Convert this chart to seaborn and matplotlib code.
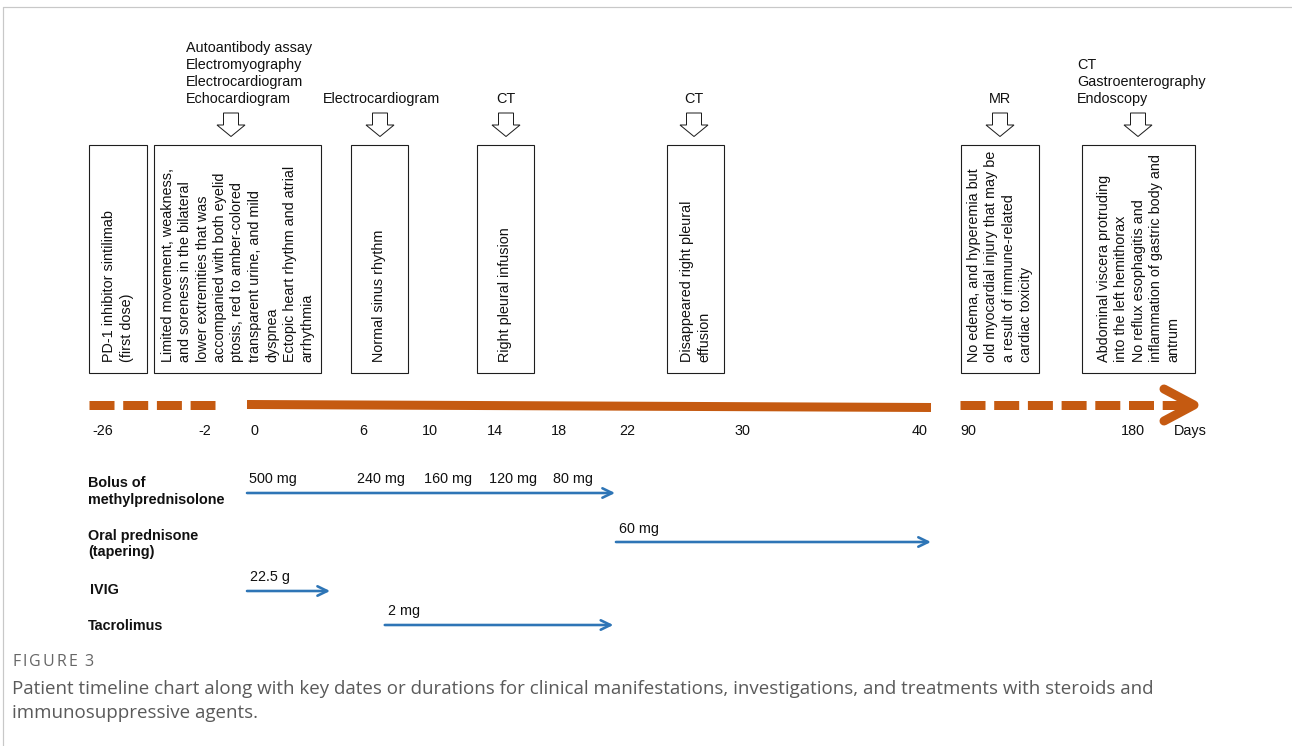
import numpy as np
import matplotlib
matplotlib.use("Agg")
import matplotlib.pyplot as plt
from matplotlib.patches import Rectangle, Polygon
import seaborn as sns

# ------------------------------------------------------------------ data
tick_days = [-26, -2, 0, 6, 10, 14, 18, 22, 30, 40, 90, 180]
tick_labels = ["-26", "-2", "0", "6", "10", "14", "18", "22", "30", "40", "90", "180"]
axis_unit = "Days"

event_texts = [
    "PD-1 inhibitor sintilimab\n(first dose)",
    "Limited movement, weakness,\nand soreness in the bilateral\nlower extremities that was\n"
    "accompanied with both eyelid\nptosis, red to amber-colored\ntransparent urine, and mild\n"
    "dyspnea\nEctopic heart rhythm and atrial\narrhythmia",
    "Normal sinus rhythm",
    "Right pleural infusion",
    "Disappeared right pleural\neffusion",
    "No edema, and hyperemia but\nold myocardial injury that may be\na result of immune-related\ncardiac toxicity",
    "Abdominal viscera protruding\ninto the left hemithorax\nNo reflux esophagitis and\n"
    "inflammation of gastric body and\nantrum",
]
investigations = [
    "Autoantibody assay\nElectromyography\nElectrocardiogram\nEchocardiogram",
    "Electrocardiogram",
    "CT",
    "CT",
    "MR",
    "CT\nGastroenterography\nEndoscopy",
]
treatment_names = ["Bolus of\nmethylprednisolone", "Oral prednisone\n(tapering)", "IVIG", "Tacrolimus"]
treatment_start = [0, 21.35, 0, 7.3]
treatment_end = [21.3, 40, 4.3, 21.2]
bolus_doses = ["500 mg", "240 mg", "160 mg", "120 mg", "80 mg"]
bolus_dose_days = [0, 6, 10, 14, 18]
other_doses = ["60 mg", "22.5 g", "2 mg"]          # oral prednisone, IVIG, tacrolimus
caption_head = "FIGURE 3"
caption_lines = [
    "Patient timeline chart along with key dates or durations for clinical manifestations, "
    "investigations, and treatments with steroids and",
    "immunosuppressive agents.",
]

# ------------------------------------------------------------------ layout / style
W, H = 1292, 746
ORANGE = "#C55A11"
BLUE = "#2E75B6"
EDGE = "#1e1e1e"
PT = 0.72  # points per pixel at dpi 100

TICK_X = [89, 215, 247, 363, 430, 495, 559, 627, 742, 931, 960, 1133]
TICK_LABEL_DX = [14, -10, 7, 0, 0, 0, 0, 0, 0, -11, 8, 0]
TICK_LABEL_Y = 431
LINE_Y = 405

BOX_X0 = [89, 154, 351, 477, 667, 961, 1082]
BOX_X1 = [147, 321, 408, 534, 724, 1039, 1195]
BOX_Y0, BOX_Y1 = 145, 373
BOX_TEXT_BOTTOM = 362
LINE_PITCH = 17.4

INV_ARROW_X = [231, 380, 506, 694, 1000, 1138]
INV_LABEL_X = [186, 382, 506, 694, 1000, 1077]
INV_HA = ["left", "center", "center", "center", "center", "left"]
INV_BASELINE = 103

TREAT_Y = [493, 542, 591, 625]
NAME_Y = [491.5, 544, 590, 626]
NAME_X = [88, 88, 90, 88]

FS = 10.4

sns.set_theme(style="white")
plt.rcParams["font.family"] = ["Liberation Sans", "DejaVu Sans"]
plt.rcParams["lines.scale_dashes"] = False

fig = plt.figure(figsize=(W / 100, H / 100), dpi=100)
ax = fig.add_axes([0, 0, 1, 1])
ax.set_xlim(0, W)
ax.set_ylim(H, 0)


def xmap(d):
    return float(np.interp(d, tick_days, TICK_X))


def lines_text(x, y_center, s, pitch, **kw):
    parts = s.split("\n")
    n = len(parts)
    for i, p in enumerate(parts):
        ax.text(x, y_center + (i - (n - 1) / 2) * pitch, p, va="center", **kw)


# ---- timeline (seaborn lines)
dash = (0, (25 * PT, 8.7 * PT))
lw_t = 9 * PT
sns.lineplot(x=[xmap(-26), xmap(-2)], y=[LINE_Y, LINE_Y], color=ORANGE, linewidth=lw_t,
             linestyle=dash, ax=ax, sort=False)
sns.lineplot(x=[xmap(0), xmap(40)], y=[LINE_Y - 0.5, LINE_Y + 2.5], color=ORANGE, linewidth=lw_t,
             solid_capstyle="butt", ax=ax, sort=False)
tip = xmap(180) + 63
sns.lineplot(x=[xmap(90), tip - 10], y=[LINE_Y, LINE_Y], color=ORANGE, linewidth=lw_t,
             linestyle=dash, ax=ax, sort=False)
ax.plot([tip - 32, tip - 2, tip - 32], [LINE_Y - 16, LINE_Y, LINE_Y + 16], color=ORANGE,
        lw=lw_t, solid_capstyle="round", solid_joinstyle="round")

for d, lab, dx in zip(tick_days, tick_labels, TICK_LABEL_DX):
    ax.text(xmap(d) + dx, TICK_LABEL_Y, lab, ha="center", va="center", fontsize=FS, color="#111111")
ax.text(tip - 6, TICK_LABEL_Y, axis_unit, ha="center", va="center", fontsize=FS, color="#111111")

# ---- event boxes with vertical text
for x0, x1, s in zip(BOX_X0, BOX_X1, event_texts):
    ax.add_patch(Rectangle((x0, BOX_Y0), x1 - x0, BOX_Y1 - BOX_Y0, fill=False,
                           edgecolor=EDGE, lw=1.1 * PT))
    parts = s.split("\n")
    n = len(parts)
    cx = (x0 + x1) / 2
    for i, p in enumerate(parts):
        ax.text(cx + (i - (n - 1) / 2) * LINE_PITCH, BOX_TEXT_BOTTOM, p, rotation=90,
                ha="center", va="bottom", fontsize=FS, color="#111111")

# ---- investigation arrows and labels
for ax_x, lx, ha, s in zip(INV_ARROW_X, INV_LABEL_X, INV_HA, investigations):
    pts = [(ax_x - 7.5, 113), (ax_x + 7.5, 113), (ax_x + 7.5, 125), (ax_x + 14, 125),
           (ax_x, 136.5), (ax_x - 14, 125), (ax_x - 7.5, 125)]
    ax.add_patch(Polygon(pts, closed=True, facecolor="white", edgecolor=EDGE, lw=1.0 * PT))
    parts = s.split("\n")
    n = len(parts)
    for i, p in enumerate(parts):
        ax.text(lx, INV_BASELINE - (n - 1 - i) * 17, p, ha=ha, va="baseline",
                fontsize=FS, color="#111111")

# ---- treatments
arrow_kw = dict(arrowstyle="->,head_length=0.7,head_width=0.34", color=BLUE, lw=2.6 * PT,
                shrinkA=0, shrinkB=0, mutation_scale=10)
for name, y, ny, nx, s, e in zip(treatment_names, TREAT_Y, NAME_Y, NAME_X,
                                 treatment_start, treatment_end):
    ax.annotate("", xy=(xmap(e), y), xytext=(xmap(s), y), arrowprops=arrow_kw)
    lines_text(nx, ny, name, 16.5, ha="left", fontsize=FS, fontweight="bold", color="#111111")

for d, lab in zip(bolus_dose_days, bolus_doses):
    lx = xmap(d) + 2 if d == treatment_start[0] else xmap(d) - 6
    ax.text(lx, TREAT_Y[0] - 13.5, lab, ha="left", va="center", fontsize=FS, color="#111111")
for idx, lab in zip([1, 2, 3], other_doses):
    ax.text(xmap(treatment_start[idx]) + 3, TREAT_Y[idx] - 13.5, lab, ha="left", va="center",
            fontsize=FS, color="#111111")

# ---- page frame and caption
ax.plot([3, W], [7, 7], color="#c8c8c8", lw=1.2 * PT)
ax.plot([3, 3], [7, H], color="#c8c8c8", lw=1.2 * PT)

CAP_FONT = ["Open Sans", "DejaVu Sans"]
fig.canvas.draw()
renderer = fig.canvas.get_renderer()

# lightly letter-spaced heading
hx = 12
for ch in caption_head:
    t = ax.text(hx, 662, ch, ha="left", va="center", fontsize=11.5, color="#666666",
                family=CAP_FONT)
    if ch == " ":
        hx += 4.5
    else:
        hx += t.get_window_extent(renderer).width + 2.2

cap1 = ax.text(12, 689, caption_lines[0], ha="left", va="center", fontsize=12,
               color="#5a5a5a", family=CAP_FONT)
bb = cap1.get_window_extent(renderer)
fs_cap = 12 * 1135 / bb.width
cap1.set_fontsize(fs_cap)
ax.text(12, 713, caption_lines[1], ha="left", va="center", fontsize=fs_cap,
        color="#5a5a5a", family=CAP_FONT)

ax.axis("off")
fig.savefig("out.png", dpi=100, facecolor="white")
